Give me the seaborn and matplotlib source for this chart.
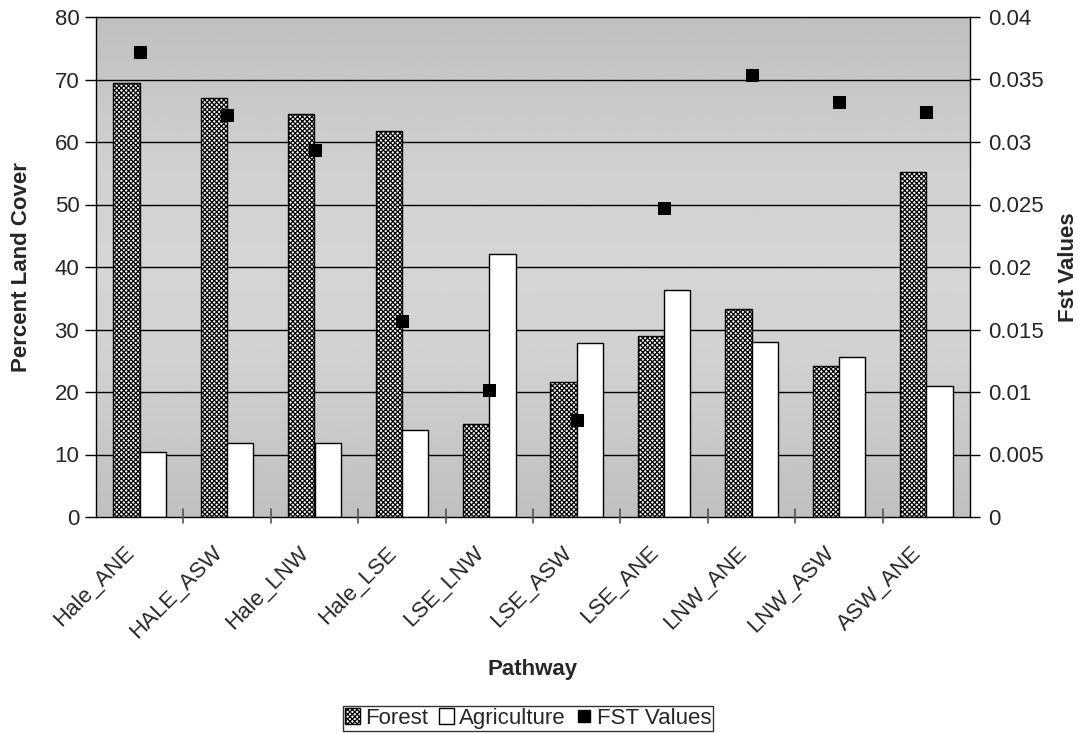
import numpy as np
import pandas as pd
import matplotlib
matplotlib.use("Agg")
import matplotlib.pyplot as plt
import matplotlib.transforms as mtransforms
import seaborn as sns
from matplotlib.patches import Patch
from matplotlib.lines import Line2D

pathways = ["Hale_ANE", "HALE_ASW", "Hale_LNW", "Hale_LSE", "LSE_LNW",
            "LSE_ASW", "LSE_ANE", "LNW_ANE", "LNW_ASW", "ASW_ANE"]
forest = [69.4, 67.0, 64.5, 61.8, 14.9, 21.6, 29.0, 33.3, 24.2, 55.2]
agriculture = [10.4, 11.8, 11.8, 13.9, 42.1, 27.8, 36.3, 28.0, 25.6, 21.0]
fst = [0.0372, 0.0322, 0.0294, 0.0157, 0.0102, 0.0078, 0.0247, 0.0354, 0.0332, 0.0324]

sns.set_theme(style="white")
plt.rcParams['font.family'] = ['Liberation Sans', 'DejaVu Sans']
plt.rcParams['hatch.color'] = 'black'
plt.rcParams['hatch.linewidth'] = 0.9

FS = 16

df = pd.DataFrame({
    "Pathway": pathways * 2,
    "Cover": forest + agriculture,
    "Type": ["Forest"] * len(pathways) + ["Agriculture"] * len(pathways),
})

fig = plt.figure(figsize=(10.78, 7.33), dpi=100)
ax = fig.add_axes([96/1078, 1 - 517/733, 874/1078, 500/733])

# gradient background
t = np.linspace(0, 1, 256)
vals = 0.753 + 0.08 * np.sin(np.pi * t) ** 1.2
grad = np.tile(vals[:, None], (1, 2))
ax.imshow(grad, extent=[-0.5, 9.5, 0, 80], aspect='auto', cmap='gray',
          vmin=0, vmax=1, zorder=0, origin='upper')

for y in range(10, 80, 10):
    ax.axhline(y, color='black', lw=1.0, zorder=1)

sns.barplot(data=df, x="Pathway", y="Cover", hue="Type", order=pathways,
            hue_order=["Forest", "Agriculture"], palette=["white", "white"],
            width=0.6, edgecolor="black", linewidth=1.0, ax=ax, legend=False,
            zorder=2)
for i, bar in enumerate(ax.patches):
    if i < len(pathways):
        bar.set_hatch('xxxxxxx')
        bar.set_facecolor('white')

ax.set_xlim(-0.5, 9.5)
ax.set_ylim(0, 80)
ax.set_yticks(range(0, 81, 10))
ax.tick_params(axis='y', labelsize=FS, length=8, width=1, color='black', direction='out', left=True, pad=4)
ax.set_xticks(range(len(pathways)))
ax.set_xticklabels(pathways, rotation=45, ha='right', rotation_mode='anchor', fontsize=FS)
ax.tick_params(axis='x', length=0, pad=8)
offset = mtransforms.ScaledTranslation(-0.16, -0.14, fig.dpi_scale_trans)
for lab in ax.get_xticklabels():
    lab.set_transform(lab.get_transform() + offset)
for b in np.arange(0.5, 9.5, 1.0):
    ax.plot([b, b], [-0.9, 1.3], color='#555555', lw=1.2, zorder=3, clip_on=False)
ax.set_ylabel("Percent Land Cover", fontsize=FS, fontweight='bold', labelpad=16)
ax.set_xlabel("Pathway", fontsize=FS, fontweight='bold', labelpad=12)
for s in ax.spines.values():
    s.set_color('black')
    s.set_linewidth(1.0)
    s.set_visible(True)

ax2 = ax.twinx()
fst_df = pd.DataFrame({"Pathway": pathways, "FST": fst, "x": np.arange(len(pathways))})
sns.scatterplot(data=fst_df, x="x", y="FST", marker='s', s=85, color='black',
                edgecolor='black', ax=ax2, zorder=5, legend=False)
ax2.set_ylim(0, 0.04)
ax2.set_yticks(np.arange(0, 0.0401, 0.005))
ax2.set_yticklabels(["0", "0.005", "0.01", "0.015", "0.02", "0.025", "0.03", "0.035", "0.04"])
ax2.tick_params(axis='y', labelsize=FS, length=7, width=1, color='black', direction='out', right=True, pad=6)
ax2.set_ylabel("Fst Values", fontsize=FS, fontweight='bold', labelpad=10)
ax2.set_xlim(-0.5, 9.5)
ax2.set_xlabel("")
for s in ax2.spines.values():
    s.set_visible(False)

handles = [Patch(facecolor='white', edgecolor='black', hatch='xxxxxxx', label='Forest'),
           Patch(facecolor='white', edgecolor='black', label='Agriculture'),
           Line2D([], [], marker='s', color='black', ls='none', markersize=9, label='FST Values')]
leg = fig.legend(handles=handles, loc='lower center', bbox_to_anchor=(528/1078, 2/733),
                 ncol=3, fontsize=FS, frameon=True, fancybox=False, edgecolor='black',
                 handlelength=0.7, handleheight=0.7, handletextpad=0.2, columnspacing=0.5,
                 borderpad=0.1, borderaxespad=0)
leg.get_frame().set_linewidth(1.0)

fig.savefig("out.png", dpi=100, facecolor='white')
